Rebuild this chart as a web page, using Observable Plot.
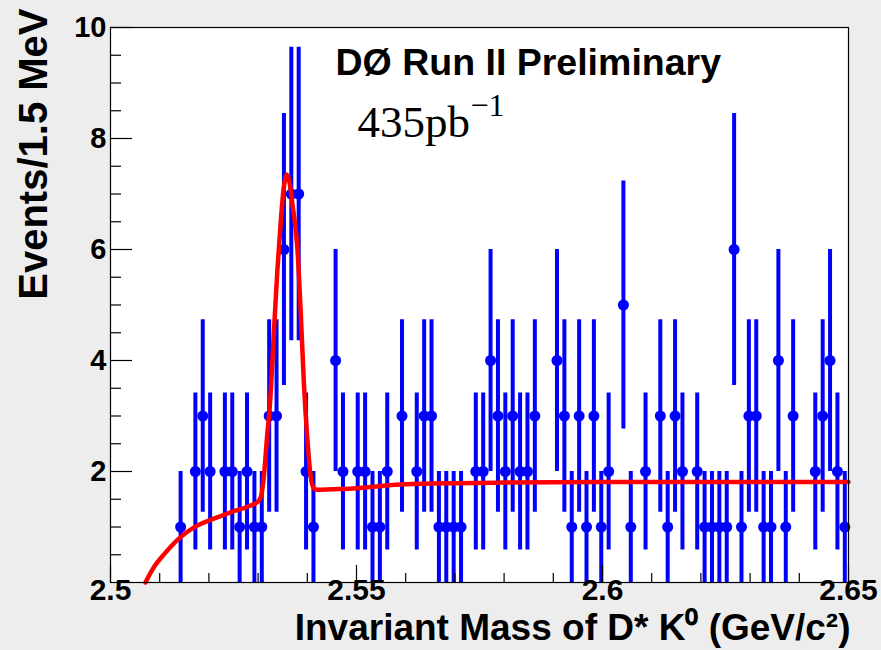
<!DOCTYPE html>
<html><head><meta charset="utf-8">
<script src="https://cdn.jsdelivr.net/npm/d3@7"></script>
<script src="https://cdn.jsdelivr.net/npm/@observablehq/plot@0.6"></script>
<style>
html,body{margin:0;padding:0;background:#ededed;}
#chart{width:881px;height:650px;}
</style></head><body><div id="chart"></div>
<script>
// Histogram definition: 100 bins of 1.5 MeV from 2.5 to 2.65 GeV/c^2
const massMin = 2.5;
const massMax = 2.65;
const binWidth = 0.0015;
const counts = [
  0,0,0,0,0,0,0,0,0,1,
  0,2,3,2,0,2,2,1,2,1,
  1,3,3,6,7,7,2,1,0,0,
  4,2,0,2,2,1,1,2,0,3,
  0,2,3,3,1,1,1,1,0,2,
  2,4,3,2,3,2,2,3,0,0,
  4,3,1,3,1,3,1,2,0,5,
  1,0,2,0,3,1,3,2,0,2,
  1,1,1,1,6,1,3,3,1,1,
  4,1,3,0,0,2,3,4,2,1
];
// Fit curve
const fitMass = [2.5071,2.5090,2.5110,2.5140,2.5175,2.5210,2.5245,2.5280,2.5300,2.5306,2.5312,2.5318,2.5325,2.5332,2.5339,2.5346,2.5352,2.5358,2.5364,2.5370,2.5380,2.5387,2.5393,2.5400,2.5407,2.5413,2.5420,2.5450,2.5500,2.5550,2.5600,2.5700,2.5800,2.6000,2.6500];
const fitEvents = [0,0.30,0.52,0.80,1.02,1.15,1.27,1.37,1.46,1.55,1.94,2.60,3.33,4.50,5.60,6.50,7.10,7.35,7.20,6.80,6.00,4.80,3.60,2.60,1.90,1.70,1.67,1.68,1.70,1.74,1.77,1.79,1.80,1.81,1.81];
// Axis ticks and labels
const yMajor = [2,4,6,8,10];
const yMinor = [0.5,1,1.5,2.5,3,3.5,4.5,5,5.5,6.5,7,7.5,8.5,9,9.5];
const yTickLabels = ["2","4","6","8","10"];
const xMajor = [2.5,2.55,2.6,2.65];
const xMinor = [2.51,2.52,2.53,2.54,2.56,2.57,2.58,2.59,2.61,2.62,2.63,2.64];
const xTickLabels = ["2.5","2.55","2.6","2.65"];
const xTitle = "Invariant Mass of D* K\u2070 (GeV/c\u00B2)";
const yTitle = "Events/1.5 MeV";
const expLabel = "D\u00D8 Run II Preliminary";
const lumiLabel = "435pb";
const lumiExp = "\u22121";

const bins = counts.map((n, i) => ({
  lo: massMin + i * binWidth,
  hi: massMin + (i + 1) * binWidth,
  mid: massMin + (i + 0.5) * binWidth,
  n,
  err: Math.sqrt(n)
})).filter(d => d.n > 0);
const fit = fitMass.map((m, i) => ({m, v: fitEvents[i]}));

const W = 881, H = 650, mL = 110, mR = 33, mT = 27, mB = 68;
const pw = W - mL - mR, ph = H - mT - mB;
const sans = "Liberation Sans, Arial, Helvetica, sans-serif";
const serif = "Liberation Serif, Times New Roman, DejaVu Serif, serif";
const blue = "#0000ff", red = "#ff0000";

const chart = Plot.plot({
  width: W, height: H,
  marginLeft: mL, marginRight: mR, marginTop: mT, marginBottom: mB,
  style: {background: "transparent", overflow: "visible"},
  x: {domain: [massMin, massMax], axis: null},
  y: {domain: [0, 10], axis: null},
  marks: [
    Plot.frame({fill: "white", stroke: null}),
    // error bars
    Plot.ruleX(bins, {x: "mid", y1: d => d.n - d.err, y2: d => d.n + d.err, stroke: blue, strokeWidth: 4}),
    Plot.ruleY(bins, {y: "n", x1: "lo", x2: "hi", stroke: blue, strokeWidth: 3.5}),
    Plot.dot(bins, {x: "mid", y: "n", r: 5.5, fill: blue, stroke: null}),
    // fit
    Plot.line(fit, {x: "m", y: "v", stroke: red, strokeWidth: 4.5, curve: "monotone-x"}),
    // ticks
    Plot.tickY(yMajor, {y: d => d, insetRight: pw - 22, stroke: "black", strokeWidth: 1.2}),
    Plot.tickY(yMinor, {y: d => d, insetRight: pw - 11, stroke: "black", strokeWidth: 1.2}),
    Plot.tickX(xMajor, {x: d => d, insetTop: ph - 17, stroke: "black", strokeWidth: 1.2}),
    Plot.tickX(xMinor, {x: d => d, insetTop: ph - 9, stroke: "black", strokeWidth: 1.2}),
    Plot.frame({stroke: "black", strokeWidth: 1.2}),
    // tick labels
    Plot.text(yMajor, {y: d => d, text: (d, i) => yTickLabels[i], frameAnchor: "left", dx: -4, textAnchor: "end", fontFamily: sans, fontWeight: "bold", fontSize: 29, fill: "black"}),
    Plot.text(xMajor, {x: d => d, text: (d, i) => xTickLabels[i], frameAnchor: "bottom", dy: 17, textAnchor: "middle", fontFamily: sans, fontWeight: "bold", fontSize: 30, fill: "black"}),
    // axis titles
    Plot.text([xTitle], {text: d => d, frameAnchor: "bottom-right", dx: 2, dy: 57, textAnchor: "end", fontFamily: sans, fontWeight: "bold", fontSize: 37, fill: "black"}),
    Plot.text([yTitle], {text: d => d, frameAnchor: "top-left", dx: -92, dy: -19, rotate: -90, textAnchor: "end", fontFamily: sans, fontWeight: "bold", fontSize: 40, fill: "black"}),
    // annotations
    Plot.text([expLabel], {text: d => d, frameAnchor: "top-left", dx: 225, dy: 21, textAnchor: "start", fontFamily: sans, fontWeight: "bold", fontSize: 37.5, fill: "black"}),
    Plot.text([lumiLabel], {text: d => d, frameAnchor: "top-left", dx: 247, dy: 78, textAnchor: "start", fontFamily: serif, fontSize: 45, fill: "black"}),
    Plot.text([lumiExp], {text: d => d, frameAnchor: "top-left", dx: 360, dy: 66, textAnchor: "start", fontFamily: serif, fontSize: 32, fill: "black"})
  ]
});
document.getElementById("chart").appendChild(chart);
</script>
</body></html>
